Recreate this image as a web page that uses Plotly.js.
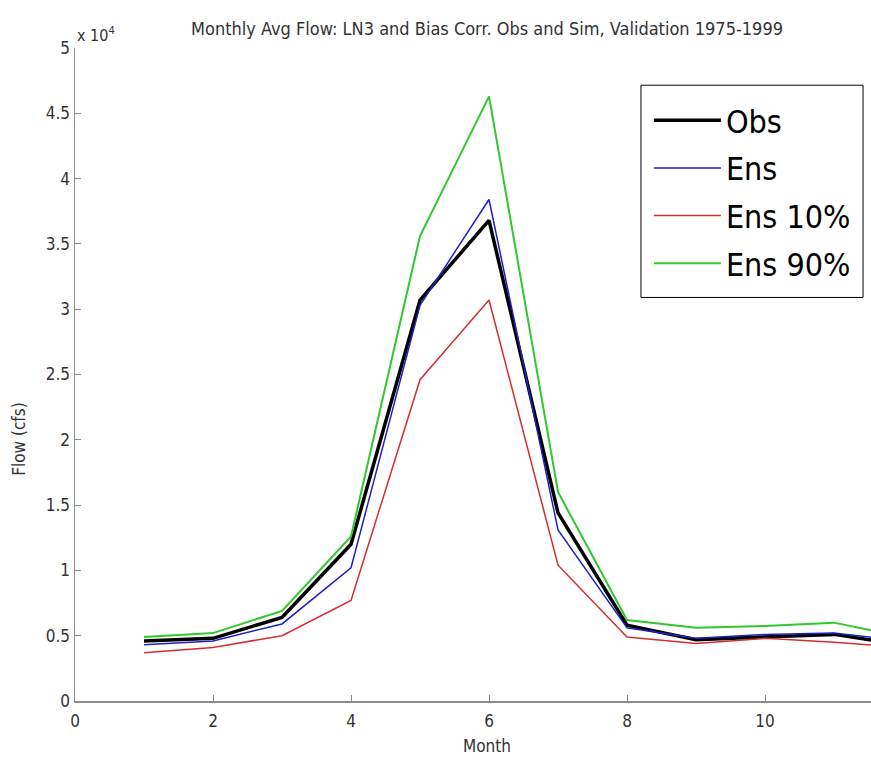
<!DOCTYPE html>
<html>
<head>
<meta charset="utf-8">
<script src="https://cdn.plot.ly/plotly-3.0.1.min.js"></script>
<style>html,body{margin:0;padding:0;background:#fff;}#chart{width:871px;height:762px;}</style>
</head>
<body>
<div id="chart"></div>
<script>
// Monthly average flow, cfs
const months = [1, 2, 3, 4, 5, 6, 7, 8, 9, 10, 11, 12];
const obs    = [4600, 4800, 6400, 12000, 30700, 36800, 14400, 5800, 4700, 4900, 5100, 4300];
const ens    = [4300, 4600, 5900, 10200, 30300, 38400, 13100, 5600, 4800, 5100, 5200, 4600];
const ens10  = [3700, 4100, 5000, 7700, 24600, 30700, 10400, 4900, 4400, 4800, 4500, 4100];
const ens90  = [4900, 5200, 6900, 12600, 35600, 46300, 16000, 6200, 5600, 5750, 6000, 4900];
const seriesNames = ["Obs", "Ens", "Ens 10%", "Ens 90%"];
const yTickVals = [0, 5000, 10000, 15000, 20000, 25000, 30000, 35000, 40000, 45000, 50000];
const yTickText = ["0", "0.5", "1", "1.5", "2", "2.5", "3", "3.5", "4", "4.5", "5"];
const xTickVals = [0, 2, 4, 6, 8, 10];

const F = "'Liberation Sans Narrow', 'DejaVu Sans Condensed', 'Arial Narrow', sans-serif";
const axisCol = "#8a8a8a";
const txtCol = "#333";

const traces = [
  {x: months, y: obs, name: seriesNames[0], line: {color: "#000000", width: 3.5}, legendgroup: "a"},
  {x: months, y: ens, name: seriesNames[1], line: {color: "#2020c8", width: 1.5}, legendgroup: "b"},
  {x: months, y: ens10, name: seriesNames[2], line: {color: "#d23030", width: 1.5}, legendgroup: "c"},
  {x: months, y: ens90, name: seriesNames[3], line: {color: "#30c830", width: 2}, legendgroup: "d"}
].map(t => Object.assign({type: "scatter", mode: "lines", hoverinfo: "skip"}, t));

const layout = {
  width: 871, height: 762,
  margin: {l: 75, r: 0, t: 48, b: 61},
  paper_bgcolor: "#fff", plot_bgcolor: "#fff",
  showlegend: true,
  legend: {
    x: 0.721, y: 0.931, xanchor: "left", yanchor: "top",
    bgcolor: "rgba(0,0,0,0)", borderwidth: 0,
    font: {family: F, size: 32, color: "#000"},
    tracegroupgap: 3, traceorder: "grouped", itemwidth: 67
  },
  shapes: [
    {type: "rect", xref: "paper", yref: "paper", x0: 0.711, x1: 0.990, y0: 0.618, y1: 0.943,
     line: {color: "#000", width: 1}, fillcolor: "#fff", layer: "below"}
  ],
  xaxis: {
    range: [0, 11.536], tickvals: xTickVals, ticktext: xTickVals.map(String),
    showgrid: false, zeroline: false, showline: true, linecolor: axisCol, linewidth: 1.5,
    ticks: "inside", ticklen: 6, tickcolor: axisCol, tickwidth: 1, ticklabelstandoff: 4,
    tickfont: {family: F, size: 17, color: txtCol}
  },
  yaxis: {
    range: [0, 50000], tickvals: yTickVals, ticktext: yTickText,
    showgrid: false, zeroline: false, showline: true, linecolor: axisCol, linewidth: 1.5,
    ticks: "inside", ticklen: 6, tickcolor: axisCol, tickwidth: 1,
    tickfont: {family: F, size: 17, color: txtCol}
  },
  annotations: [
    {text: "Monthly Avg Flow: LN3 and Bias Corr. Obs and Sim, Validation 1975-1999",
     xref: "paper", yref: "paper", x: 0.518, y: 1, yshift: 20, xanchor: "center", yanchor: "middle",
     showarrow: false, font: {family: F, size: 18, color: txtCol}},
    {text: "x 10<sup>4</sup>", xref: "paper", yref: "paper", x: 0, y: 1, yshift: 14,
     xanchor: "left", yanchor: "middle", showarrow: false, font: {family: F, size: 16, color: txtCol}},
    {text: "Month", xref: "paper", yref: "paper", x: 0.518, y: 0, yshift: -45,
     xanchor: "center", yanchor: "middle", showarrow: false, font: {family: F, size: 17, color: txtCol}},
    {text: "Flow (cfs)", xref: "paper", yref: "paper", x: 0, y: 0.4, xshift: -56,
     textangle: -90, xanchor: "center", yanchor: "middle", showarrow: false, font: {family: F, size: 17, color: txtCol}}
  ]
};

Plotly.newPlot("chart", traces, layout, {staticPlot: true, displayModeBar: false});
</script>
</body>
</html>
